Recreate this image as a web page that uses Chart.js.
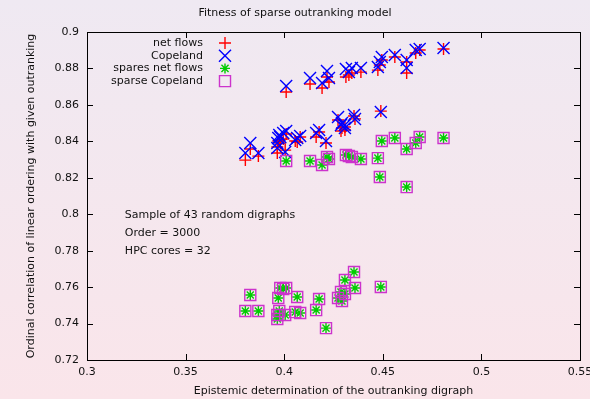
<!DOCTYPE html>
<html>
<head>
<meta charset="utf-8">
<script src="https://cdn.jsdelivr.net/npm/chart.js@4/dist/chart.umd.min.js"></script>
<style>
html, body { margin: 0; padding: 0; }
body { width: 590px; height: 399px; overflow: hidden; background: linear-gradient(#efe9f2, #fae5ea); }
</style>
</head>
<body>
<canvas id="fitness" width="590" height="399"></canvas>
<script>
// one entry per random digraph (43)
var determination = [
  0.4010, 0.4131, 0.4192, 0.4217, 0.4227, 0.4313, 0.4328, 0.4343, 0.4389, 0.4475,
  0.4485, 0.4495, 0.4561, 0.4621, 0.4621, 0.4667, 0.4687, 0.4808,
  0.3803, 0.3828, 0.3869, 0.3965, 0.3965, 0.3970, 0.3975, 0.3995, 0.4010, 0.4005,
  0.4066, 0.4081, 0.4056, 0.4162, 0.4177, 0.4212, 0.4273, 0.4288, 0.4293, 0.4308,
  0.4354, 0.4359, 0.4490, 0.4308, 0.3980
];
var netFlows = [
  0.8671, 0.8715, 0.8693, 0.8753, 0.8726, 0.8753, 0.8764, 0.8775, 0.8780, 0.8791,
  0.8819, 0.8846, 0.8863, 0.8775, 0.8835, 0.8885, 0.8901, 0.8907,
  0.8297, 0.8358, 0.8319, 0.8369, 0.8336, 0.8402, 0.8407, 0.8413, 0.8440, 0.8352,
  0.8396, 0.8424, 0.8402, 0.8424, 0.8451, 0.8391, 0.8517, 0.8457, 0.8473, 0.8479,
  0.8539, 0.8523, 0.8566, 0.8462, 0.8391
];
var copeland = [
  0.8704, 0.8748, 0.8720, 0.8786, 0.8748, 0.8797, 0.8780, 0.8802, 0.8802, 0.8808,
  0.8835, 0.8863, 0.8874, 0.8802, 0.8846, 0.8901, 0.8907, 0.8912,
  0.8336, 0.8391, 0.8336, 0.8391, 0.8363, 0.8418, 0.8435, 0.8446, 0.8457, 0.8341,
  0.8418, 0.8429, 0.8407, 0.8446, 0.8462, 0.8402, 0.8533, 0.8490, 0.8501, 0.8490,
  0.8544, 0.8523, 0.8561, 0.8473, 0.8424
];
var sparseNetFlows = [
  0.8292, 0.8292, 0.8270, 0.8314, 0.8303, 0.8325, 0.8320, 0.8314, 0.8303, 0.8308,
  0.8204, 0.8402, 0.8418, 0.8149, 0.8358, 0.8391, 0.8424, 0.8418,
  0.7469, 0.7557, 0.7469, 0.7447, 0.7425, 0.7540, 0.7469, 0.7590, 0.7595, 0.7447,
  0.7546, 0.7458, 0.7463, 0.7474, 0.7535, 0.7375, 0.7540, 0.7573, 0.7524, 0.7639,
  0.7683, 0.7595, 0.7601, 0.7562, 0.7595
];
var sparseCopeland = [
  0.8292, 0.8292, 0.8270, 0.8314, 0.8303, 0.8325, 0.8320, 0.8314, 0.8303, 0.8308,
  0.8204, 0.8402, 0.8418, 0.8149, 0.8358, 0.8391, 0.8424, 0.8418,
  0.7469, 0.7557, 0.7469, 0.7447, 0.7425, 0.7540, 0.7469, 0.7590, 0.7595, 0.7447,
  0.7546, 0.7458, 0.7463, 0.7474, 0.7535, 0.7375, 0.7540, 0.7573, 0.7524, 0.7639,
  0.7683, 0.7595, 0.7601, 0.7562, 0.7595
];
var seriesNames = ['net flows', 'Copeland', 'spares net flows', 'sparse Copeland'];
var noteLines = ['Sample of 43 random digraphs', 'Order = 3000', 'HPC cores = 32'];

var font = '"DejaVu Sans", sans-serif';

function pts(vals) {
  return determination.map(function (x, i) { return { x: x, y: vals[i] }; });
}

function marker(ds, order) {
  return {
    label: ds.label, data: ds.data, order: order,
    pointStyle: ds.style, pointRadius: ds.r, pointHoverRadius: ds.r,
    pointBorderWidth: 1.4, pointBorderColor: ds.color,
    pointBackgroundColor: 'rgba(0,0,0,0)', showLine: false
  };
}

var datasets = [
  marker({ label: seriesNames[0], data: pts(netFlows), style: 'cross', r: 6, color: '#ff0000' }, 3),
  marker({ label: seriesNames[1], data: pts(copeland), style: 'crossRot', r: 8.5, color: '#0000ff' }, 2),
  marker({ label: seriesNames[2], data: pts(sparseNetFlows), style: 'star', r: 5, color: '#00cc00' }, 1),
  marker({ label: seriesNames[3], data: pts(sparseCopeland), style: 'rect', r: 7.8, color: '#cc33cc' }, 0)
];

// short tick labels like gnuplot: 0.9, 0.88, 0.35 ...
function shortNum(v) { return String(+v.toFixed(2)); }

// gnuplot-like frame: box, inward mirrored ticks, legend, note
var framePlugin = {
  id: 'frame',
  afterDraw: function (chart) {
    var ctx = chart.ctx, a = chart.chartArea;
    var xs = chart.scales.x, ys = chart.scales.y;
    ctx.save();
    ctx.strokeStyle = '#000';
    ctx.lineWidth = 1;
    ctx.strokeRect(Math.round(a.left) + 0.5, Math.round(a.top) + 0.5,
      Math.round(a.right - a.left), Math.round(a.bottom - a.top));
    ctx.beginPath();
    xs.ticks.forEach(function (t) {
      var px = Math.round(xs.getPixelForValue(t.value)) + 0.5;
      ctx.moveTo(px, a.bottom); ctx.lineTo(px, a.bottom - 6);
      ctx.moveTo(px, a.top); ctx.lineTo(px, a.top + 6);
    });
    ys.ticks.forEach(function (t) {
      var py = Math.round(ys.getPixelForValue(t.value)) + 0.5;
      ctx.moveTo(a.left, py); ctx.lineTo(a.left + 6, py);
      ctx.moveTo(a.right, py); ctx.lineTo(a.right - 6, py);
    });
    ctx.stroke();

    // legend, text right aligned, marker on the right
    ctx.font = '11px ' + font;
    ctx.textBaseline = 'middle';
    chart.data.datasets.forEach(function (ds, i) {
      var y = a.top + 11 + i * 12.7;
      ctx.fillStyle = '#111';
      ctx.textAlign = 'right';
      ctx.fillText(ds.label, a.left + 116, y);
      ctx.fillStyle = 'rgba(0,0,0,0)';
      ctx.strokeStyle = ds.pointBorderColor;
      ctx.lineWidth = ds.pointBorderWidth;
      Chart.helpers.drawPoint(ctx, {
        pointStyle: ds.pointStyle, radius: ds.pointRadius, rotation: 0,
        borderWidth: ds.pointBorderWidth
      }, a.left + 138, y);
    });

    ctx.fillStyle = '#111';
    ctx.textAlign = 'left';
    var nx = xs.getPixelForValue(0.3192), ny = ys.getPixelForValue(0.7996);
    noteLines.forEach(function (line, i) {
      ctx.fillText(line, nx, ny + i * 18);
    });
    ctx.restore();
  }
};

new Chart(document.getElementById('fitness'), {
  type: 'scatter',
  data: { datasets: datasets },
  plugins: [framePlugin],
  options: {
    responsive: false,
    animation: false,
    devicePixelRatio: 1,
    layout: { padding: 0 },
    plugins: {
      legend: { display: false },
      tooltip: { enabled: false },
      title: {
        display: true,
        text: 'Fitness of sparse outranking model',
        color: '#111',
        font: { family: font, size: 11, weight: 'normal' },
        padding: { top: 7, bottom: 11.8 }
      }
    },
    scales: {
      x: {
        type: 'linear', min: 0.3, max: 0.55,
        ticks: { stepSize: 0.05, color: '#111', padding: 6, font: { family: font, size: 11 }, callback: shortNum },
        grid: { display: false, drawTicks: false },
        border: { display: false },
        title: {
          display: true, text: 'Epistemic determination of the outranking digraph',
          color: '#111', font: { family: font, size: 11 }, padding: { top: 0, bottom: 1.5 }
        },
        afterFit: function (s) { s.height = 39; s.paddingRight = 10; s.paddingLeft = 0; }
      },
      y: {
        type: 'linear', min: 0.72, max: 0.9,
        ticks: { stepSize: 0.02, color: '#111', padding: 8, font: { family: font, size: 11 }, callback: shortNum },
        grid: { display: false, drawTicks: false },
        border: { display: false },
        title: {
          display: true, text: 'Ordinal correlation of linear ordering with given outranking',
          color: '#111', font: { family: font, size: 11 }, padding: { top: 24.5, bottom: 0 }
        },
        afterFit: function (s) { s.width = 87; s.paddingTop = 0; s.paddingBottom = 0; }
      }
    }
  }
});
</script>
</body>
</html>
